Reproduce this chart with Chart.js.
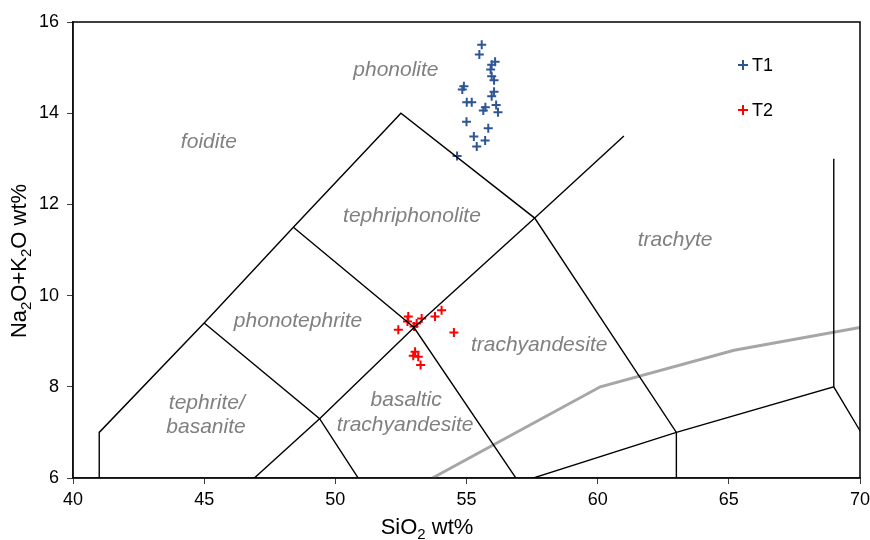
<!DOCTYPE html>
<html>
<head>
<meta charset="utf-8">
<script src="https://cdn.jsdelivr.net/npm/chart.js@4"></script>
<style>
  html, body { margin: 0; background: #fff; }
</style>
</head>
<body>
<canvas id="tas" width="870" height="540"></canvas>
<script>
// Sample analyses [SiO2, Na2O+K2O]
const t1Points = [
  [55.58, 15.50], [55.49, 15.29], [56.09, 15.13], [55.96, 15.06], [55.92, 14.96],
  [55.96, 14.81], [56.05, 14.72], [54.90, 14.59], [54.84, 14.52], [56.05, 14.47],
  [55.96, 14.37], [55.01, 14.24], [55.20, 14.24], [56.13, 14.18], [55.72, 14.13],
  [55.64, 14.06], [56.20, 14.02], [55.00, 13.81], [55.83, 13.67], [55.28, 13.49],
  [55.71, 13.40], [55.39, 13.27], [54.64, 13.06]
];
const t2Points = [
  [52.78, 9.54], [52.75, 9.43], [53.10, 9.39], [53.00, 9.32], [53.29, 9.50],
  [53.80, 9.54], [54.05, 9.68], [52.40, 9.25], [54.52, 9.19], [53.04, 8.77],
  [52.97, 8.68], [53.16, 8.66], [53.25, 8.48]
];

// TAS field boundaries (Le Bas et al.)
const boundaries = [
  [[41, 0], [41, 7], [45, 9.4], [48.4, 11.5], [52.5, 14], [57.6, 11.7], [63, 7], [63, 0]],
  [[45, 9.4], [49.4, 7.3], [52, 5]],
  [[48.4, 11.5], [53, 9.3], [57, 5.9]],
  [[45, 5], [49.4, 7.3], [53, 9.3], [57.6, 11.7], [61, 13.5]],
  [[52, 5], [57, 5.9], [63, 7], [69, 8], [77.3, 0]],
  [[69, 8], [69, 13]]
];
// alkaline / subalkaline divide
const alkalineLine = [[53.7, 6], [60.1, 8], [65.2, 8.8], [70, 9.3]];

const fieldNames = ['phonolite', 'foidite', 'tephriphonolite', 'trachyte', 'phonotephrite',
  'trachyandesite', 'basaltic', 'trachyandesite', 'tephrite/', 'basanite'];
const fieldPos = [[52.31, 14.95], [45.18, 13.37], [52.92, 11.74], [62.95, 11.22], [48.58, 9.44],
  [57.77, 8.91], [52.7, 7.70], [52.66, 7.16], [45.1, 7.64], [45.07, 7.12]];

const xTicks = [40, 45, 50, 55, 60, 65, 70];
const yTicks = [6, 8, 10, 12, 14, 16];

const FONT = 'Liberation Sans, Arial, sans-serif';
const toXY = arr => arr.map(p => ({ x: p[0], y: p[1] }));

const datasets = [];
boundaries.forEach(b => datasets.push({
  data: toXY(b), showLine: true, borderColor: '#000', borderWidth: 1.4,
  pointRadius: 0, fill: false
}));
datasets.push({
  data: toXY(alkalineLine), showLine: true, borderColor: '#A6A6A6', borderWidth: 3,
  pointRadius: 0, fill: false
});
datasets.push({
  label: 'T1', data: toXY(t1Points), pointStyle: 'cross', pointRadius: 4.5,
  pointBorderWidth: 2, borderColor: '#2F5597', backgroundColor: '#2F5597'
});
datasets.push({
  label: 'T2', data: toXY(t2Points), pointStyle: 'cross', pointRadius: 4.5,
  pointBorderWidth: 2, borderColor: '#FF0000', backgroundColor: '#FF0000'
});

// draw text with subscript parts, centred on (0,0) of current transform
function subText(ctx, parts, size) {
  const small = Math.round(size * 0.7);
  let w = 0;
  parts.forEach(p => {
    ctx.font = (p[1] ? small : size) + 'px ' + FONT;
    w += ctx.measureText(p[0]).width;
  });
  let x = -w / 2;
  ctx.textAlign = 'left';
  ctx.textBaseline = 'middle';
  parts.forEach(p => {
    ctx.font = (p[1] ? small : size) + 'px ' + FONT;
    ctx.fillText(p[0], x, p[1] ? size * 0.3 : 0);
    x += ctx.measureText(p[0]).width;
  });
}

const tasPlugin = {
  id: 'tasExtras',
  afterDatasetsDraw(chart) {
    const { ctx, chartArea: a, scales: { x, y } } = chart;
    ctx.save();
    // frame
    ctx.strokeStyle = '#000';
    ctx.lineWidth = 1.5;
    ctx.strokeRect(a.left, a.top, a.right - a.left, a.bottom - a.top);

    // field names
    ctx.fillStyle = '#808080';
    ctx.font = 'italic 21px ' + FONT;
    ctx.textAlign = 'center';
    ctx.textBaseline = 'middle';
    fieldNames.forEach((n, i) => {
      ctx.fillText(n, x.getPixelForValue(fieldPos[i][0]), y.getPixelForValue(fieldPos[i][1]));
    });

    // legend
    const items = [['T1', '#2F5597'], ['T2', '#FF0000']];
    items.forEach((it, i) => {
      const lx = 743, ly = 65 + i * 45;
      ctx.strokeStyle = it[1];
      ctx.lineWidth = 2;
      ctx.beginPath();
      ctx.moveTo(lx - 5, ly); ctx.lineTo(lx + 5, ly);
      ctx.moveTo(lx, ly - 5); ctx.lineTo(lx, ly + 5);
      ctx.stroke();
      ctx.fillStyle = '#000';
      ctx.font = '18px ' + FONT;
      ctx.textAlign = 'left';
      ctx.fillText(it[0], lx + 9, ly + 1);
    });

    // axis titles
    ctx.fillStyle = '#000';
    ctx.save();
    ctx.translate(427, 528);
    subText(ctx, [['SiO', false], ['2', true], [' wt%', false]], 22);
    ctx.restore();
    ctx.save();
    ctx.translate(20, 261);
    ctx.rotate(-Math.PI / 2);
    subText(ctx, [['Na', false], ['2', true], ['O+K', false], ['2', true], ['O wt%', false]], 22);
    ctx.restore();
    ctx.restore();
  }
};

new Chart(document.getElementById('tas'), {
  type: 'scatter',
  data: { datasets },
  options: {
    responsive: false,
    animation: false,
    layout: { padding: { top: 22, right: 10, left: 0, bottom: 0 } },
    plugins: { legend: { display: false }, tooltip: { enabled: false } },
    scales: {
      x: {
        type: 'linear', min: 40, max: 70,
        afterBuildTicks: s => { s.ticks = xTicks.map(v => ({ value: v })); },
        ticks: { color: '#000', font: { family: FONT, size: 18 }, padding: 5 },
        grid: { drawOnChartArea: false, tickLength: 6, color: '#404040' },
        border: { color: '#404040', width: 1.5 },
        afterFit: s => { s.height = 62; s.paddingRight = 0; s.paddingLeft = 0; }
      },
      y: {
        type: 'linear', min: 6, max: 16,
        afterBuildTicks: s => { s.ticks = yTicks.map(v => ({ value: v })); },
        ticks: { color: '#000', font: { family: FONT, size: 18 }, padding: 8 },
        grid: { drawOnChartArea: false, tickLength: 6, color: '#404040' },
        border: { color: '#404040', width: 1.5 },
        afterFit: s => { s.width = 73; s.paddingTop = 0; s.paddingBottom = 0; }
      }
    }
  },
  plugins: [tasPlugin]
});
</script>
</body>
</html>
